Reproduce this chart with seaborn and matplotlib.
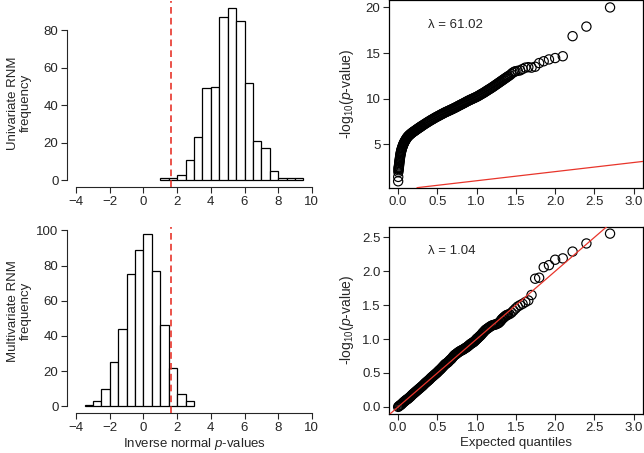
import matplotlib
matplotlib.use("Agg")
import matplotlib.pyplot as plt
import numpy as np
import pandas as pd
import seaborn as sns

# ---- histogram data (bins of width 0.5) ----
uni_edges = [1.0, 1.5, 2.0, 2.5, 3.0, 3.5, 4.0, 4.5, 5.0, 5.5, 6.0, 6.5, 7.0, 7.5, 8.0, 8.5, 9.0, 9.5]
uni_counts = [1, 1, 3, 11, 23, 49, 50, 87, 92, 85, 52, 21, 17, 5, 1, 1, 1]

multi_edges = [-3.5, -3.0, -2.5, -2.0, -1.5, -1.0, -0.5, 0.0, 0.5, 1.0, 1.5, 2.0, 2.5, 3.0]
multi_counts = [1, 3, 10, 25, 44, 75, 89, 98, 77, 46, 22, 7, 3]

threshold = 1.645

# ---- QQ data: expected vs observed -log10(p) ----
uni_expected = [
    0.000, 0.001, 0.003, 0.005, 0.006, 0.007, 0.008,
    0.010, 0.011, 0.013, 0.014, 0.016, 0.018, 0.020, 0.022,
    0.025, 0.027, 0.030, 0.032, 0.035, 0.037, 0.040, 0.043, 0.047, 0.051,
    0.055, 0.059, 0.063, 0.067, 0.072, 0.077, 0.082, 0.087, 0.093, 0.099,
    0.105, 0.111, 0.118, 0.125, 0.132, 0.140, 0.147, 0.155, 0.162, 0.170,
    0.178, 0.186, 0.195, 0.203, 0.212, 0.221, 0.230, 0.239, 0.248, 0.257,
    0.266, 0.275, 0.284, 0.292,
    0.3000, 0.3125, 0.3250, 0.3375, 0.3500, 0.3625, 0.3750, 0.3875, 0.4000, 0.4125,
    0.4250, 0.4375, 0.4500, 0.4625, 0.4750, 0.4875, 0.5000, 0.5125, 0.5250, 0.5375,
    0.5500, 0.5625, 0.5750, 0.5875, 0.6000, 0.6125, 0.6250, 0.6375, 0.6500, 0.6625,
    0.6750, 0.6875, 0.7000, 0.7125, 0.7250, 0.7375, 0.7500, 0.7625, 0.7750, 0.7875,
    0.8000, 0.8125, 0.8250, 0.8375, 0.8500, 0.8625, 0.8750, 0.8875, 0.9000, 0.9125,
    0.9250, 0.9375, 0.9500, 0.9625, 0.9750, 0.9875, 1.0000, 1.0125, 1.0250, 1.0375,
    1.0500, 1.0625, 1.0750, 1.0875, 1.1000, 1.1125, 1.1250, 1.1375, 1.1500, 1.1625,
    1.1750, 1.1875, 1.2000, 1.2125, 1.2250, 1.2375, 1.2500, 1.2625, 1.2750, 1.2875,
    1.3000, 1.3125, 1.3250, 1.3375, 1.3500, 1.3625, 1.3750, 1.3875, 1.4000,
    1.420, 1.440, 1.460, 1.480, 1.495, 1.523, 1.553, 1.585, 1.620, 1.658,
    1.699, 1.745, 1.796, 1.854, 1.921, 2.000, 2.097, 2.222, 2.398, 2.699,
]
uni_observed = [
    0.94, 1.42, 1.95, 2.15, 2.28, 2.38, 2.47,
    2.55, 2.68, 2.80, 2.92, 3.05, 3.18, 3.30, 3.45,
    3.60, 3.74, 3.88, 3.99, 4.10, 4.20, 4.30, 4.41, 4.52, 4.62,
    4.72, 4.82, 4.92, 5.01, 5.10, 5.19, 5.28, 5.36, 5.45, 5.53,
    5.62, 5.70, 5.78, 5.85, 5.92, 5.98, 6.04, 6.10, 6.15, 6.21,
    6.26, 6.32, 6.37, 6.42, 6.47, 6.53, 6.58, 6.64, 6.69, 6.75,
    6.80, 6.85, 6.90, 6.95,
    7.00, 7.07, 7.14, 7.21, 7.28, 7.35, 7.42, 7.48, 7.55, 7.62,
    7.68, 7.74, 7.80, 7.87, 7.93, 7.99, 8.05, 8.10, 8.16, 8.22,
    8.28, 8.33, 8.39, 8.45, 8.50, 8.55, 8.60, 8.65, 8.70, 8.75,
    8.80, 8.85, 8.90, 8.96, 9.01, 9.06, 9.12, 9.18, 9.24, 9.29,
    9.35, 9.40, 9.46, 9.51, 9.57, 9.63, 9.69, 9.74, 9.80, 9.85,
    9.90, 9.95, 10.00, 10.05, 10.10, 10.15, 10.20, 10.26, 10.32, 10.38,
    10.45, 10.51, 10.57, 10.63, 10.70, 10.77, 10.84, 10.91, 10.98, 11.04,
    11.11, 11.18, 11.25, 11.32, 11.40, 11.47, 11.55, 11.62, 11.70, 11.77,
    11.85, 11.92, 12.00, 12.07, 12.15, 12.22, 12.30, 12.37, 12.45,
    12.55, 12.70, 12.85, 12.95, 13.00, 13.05, 13.10, 13.25, 13.40, 13.45,
    13.40, 13.50, 13.90, 14.10, 14.30, 14.45, 14.65, 16.85, 17.90, 20.00,
]

multi_expected = [
    0.00, 0.01, 0.02, 0.03, 0.04, 0.05, 0.06, 0.07, 0.08, 0.09,
    0.10, 0.11, 0.12, 0.13, 0.14, 0.15, 0.16, 0.17, 0.18, 0.19,
    0.20, 0.21, 0.22, 0.23, 0.24, 0.25, 0.26, 0.27, 0.28, 0.29,
    0.30, 0.31, 0.32, 0.33, 0.34, 0.35, 0.36, 0.37, 0.38, 0.39,
    0.40, 0.41, 0.42, 0.43, 0.44, 0.45, 0.46, 0.47, 0.48, 0.49,
    0.50, 0.51, 0.52, 0.53, 0.54, 0.55, 0.56, 0.57, 0.58, 0.59,
    0.60, 0.61, 0.62, 0.63, 0.64, 0.65, 0.66, 0.67, 0.68, 0.69,
    0.70, 0.71, 0.72, 0.73, 0.74, 0.75, 0.76, 0.77, 0.78, 0.79,
    0.80, 0.81, 0.82, 0.83, 0.84, 0.85, 0.86, 0.87, 0.88, 0.89,
    0.90, 0.91, 0.92, 0.93, 0.94, 0.95, 0.96, 0.97, 0.98, 0.99,
    1.000, 1.005, 1.010, 1.019, 1.028, 1.037, 1.046, 1.056, 1.066, 1.076,
    1.086, 1.097, 1.108, 1.119, 1.131, 1.143, 1.155, 1.167, 1.180, 1.194,
    1.208, 1.222, 1.237, 1.252, 1.268, 1.284, 1.301, 1.310, 1.319, 1.328,
    1.337, 1.347, 1.357, 1.367, 1.377, 1.388, 1.398, 1.420, 1.444, 1.469,
    1.495, 1.523, 1.553, 1.585, 1.620, 1.658,
    1.699, 1.745, 1.796, 1.854, 1.921, 2.000, 2.097, 2.222, 2.398, 2.699,
]
multi_observed = [
    0.000, 0.010, 0.020, 0.028, 0.035, 0.048, 0.060, 0.070, 0.080, 0.090,
    0.100, 0.108, 0.115, 0.125, 0.135, 0.145, 0.155, 0.168, 0.180, 0.190,
    0.200, 0.210, 0.220, 0.230, 0.240, 0.250, 0.260, 0.270, 0.280, 0.290,
    0.300, 0.310, 0.320, 0.333, 0.345, 0.355, 0.365, 0.375, 0.385, 0.395,
    0.405, 0.418, 0.430, 0.440, 0.450, 0.460, 0.470, 0.480, 0.490, 0.500,
    0.510, 0.523, 0.535, 0.545, 0.555, 0.568, 0.580, 0.593, 0.605, 0.618,
    0.630, 0.638, 0.645, 0.655, 0.665, 0.678, 0.690, 0.700, 0.710, 0.725,
    0.740, 0.753, 0.765, 0.773, 0.780, 0.790, 0.800, 0.808, 0.815, 0.823,
    0.830, 0.835, 0.840, 0.848, 0.855, 0.863, 0.870, 0.878, 0.885, 0.895,
    0.905, 0.915, 0.925, 0.933, 0.940, 0.948, 0.955, 0.965, 0.975, 0.988,
    1.000, 1.005, 1.010, 1.020, 1.030, 1.040, 1.050, 1.060, 1.075, 1.090,
    1.100, 1.115, 1.130, 1.140, 1.150, 1.160, 1.170, 1.180, 1.190, 1.200,
    1.205, 1.210, 1.215, 1.220, 1.230, 1.240, 1.260, 1.275, 1.290, 1.300,
    1.310, 1.320, 1.330, 1.340, 1.350, 1.355, 1.360, 1.370, 1.390, 1.420,
    1.450, 1.480, 1.500, 1.520, 1.545, 1.570,
    1.650, 1.890, 1.905, 2.060, 2.090, 2.170, 2.190, 2.290, 2.410, 2.555,
]

uni_lambda = "\u03bb = 61.02"
multi_lambda = "\u03bb = 1.04"

sns.set_style("ticks")
plt.rcParams["font.family"] = ["Liberation Sans", "DejaVu Sans"]
plt.rcParams["mathtext.fontset"] = "custom"
plt.rcParams["mathtext.rm"] = "Liberation Sans"
plt.rcParams["mathtext.it"] = "Liberation Sans:italic"
plt.rcParams["font.size"] = 9.5
plt.rcParams["axes.linewidth"] = 0.8

fig = plt.figure(figsize=(6.44, 4.53), dpi=100)
ax_tl = fig.add_axes([0.1036, 0.5868, 0.3953, 0.4110])
ax_bl = fig.add_axes([0.1036, 0.0879, 0.3953, 0.4110])
ax_tr = fig.add_axes([0.6036, 0.5857, 0.3950, 0.4132])
ax_br = fig.add_axes([0.6036, 0.0868, 0.3950, 0.4132])


def draw_hist(ax, edges, counts, ylim, yticks, ylabel, label_y):
    centers = (np.array(edges[:-1]) + np.array(edges[1:])) / 2
    sns.histplot(x=centers, weights=counts, bins=edges, ax=ax, color="white",
                 edgecolor="black", linewidth=0.9, alpha=1)
    ax.axvline(threshold, color="#e8352b", lw=1.2, ls=(0, (4, 2.5)), zorder=4)
    ax.set_xlim(-4.56, 10.56)
    ax.set_ylim(*ylim)
    ax.set_xticks(range(-4, 11, 2))
    ax.set_yticks(yticks)
    sns.despine(ax=ax)
    ax.spines["left"].set_bounds(yticks[0], yticks[-1])
    ax.spines["bottom"].set_bounds(-4, 10)
    ax.tick_params(direction="out", length=4, width=0.8, pad=2, labelsize=9.5)
    ax.set_ylabel(ylabel, fontsize=9.5, linespacing=1.15)
    ax.yaxis.set_label_coords(-0.135, label_y)
    ax.set_xlabel("")


def draw_qq(ax, expected, observed, ylim, yticks, label):
    df = pd.DataFrame({"expected": expected, "observed": observed})
    sns.scatterplot(data=df, x="expected", y="observed", ax=ax, s=44,
                    facecolor="none", edgecolor="black", linewidth=0.85, zorder=3)
    ax.axline((0, 0), slope=1, color="#e8352b", lw=0.9, zorder=4)
    ax.set_xlim(-0.12, 3.12)
    ax.set_ylim(*ylim)
    ax.set_xticks([0, 0.5, 1.0, 1.5, 2.0, 2.5, 3.0])
    ax.set_xticklabels(["0.0", "0.5", "1.0", "1.5", "2.0", "2.5", "3.0"])
    ax.set_yticks(yticks)
    for s in ax.spines.values():
        s.set_linewidth(0.9)
        s.set_color("black")
    ax.tick_params(direction="out", length=4, width=0.8, pad=2, labelsize=9.5)
    ax.text(0.154, 0.87, label, transform=ax.transAxes, ha="left", va="center", fontsize=9.5)
    ax.set_ylabel("-log$_{10}$($p$-value)", fontsize=10)
    ax.yaxis.set_label_coords(-0.13, 0.5)
    ax.set_xlabel("")


draw_hist(ax_tl, uni_edges, uni_counts, (-3.68, 95.68), [0, 20, 40, 60, 80],
          "Univariate RNM\nfrequency", 0.453)
draw_hist(ax_bl, multi_edges, multi_counts, (-3.92, 101.92), [0, 20, 40, 60, 80, 100],
          "Multivariate RNM\nfrequency", 0.548)
ax_bl.set_xlabel("Inverse normal $p$-values", fontsize=9.5)
ax_bl.xaxis.set_label_coords(0.5, -0.125)
ax_bl.xaxis.label.set_va("top")

draw_qq(ax_tr, uni_expected, uni_observed, (0.24, 20.76), [5, 10, 15, 20], uni_lambda)
draw_qq(ax_br, multi_expected, multi_observed, (-0.10, 2.66),
        [0.0, 0.5, 1.0, 1.5, 2.0, 2.5], multi_lambda)
ax_br.set_yticklabels(["0.0", "0.5", "1.0", "1.5", "2.0", "2.5"])
ax_br.set_xlabel("Expected quantiles", fontsize=9.5)
ax_br.xaxis.set_label_coords(0.5, -0.125)
ax_br.xaxis.label.set_va("top")

fig.savefig("out.png", dpi=100)
